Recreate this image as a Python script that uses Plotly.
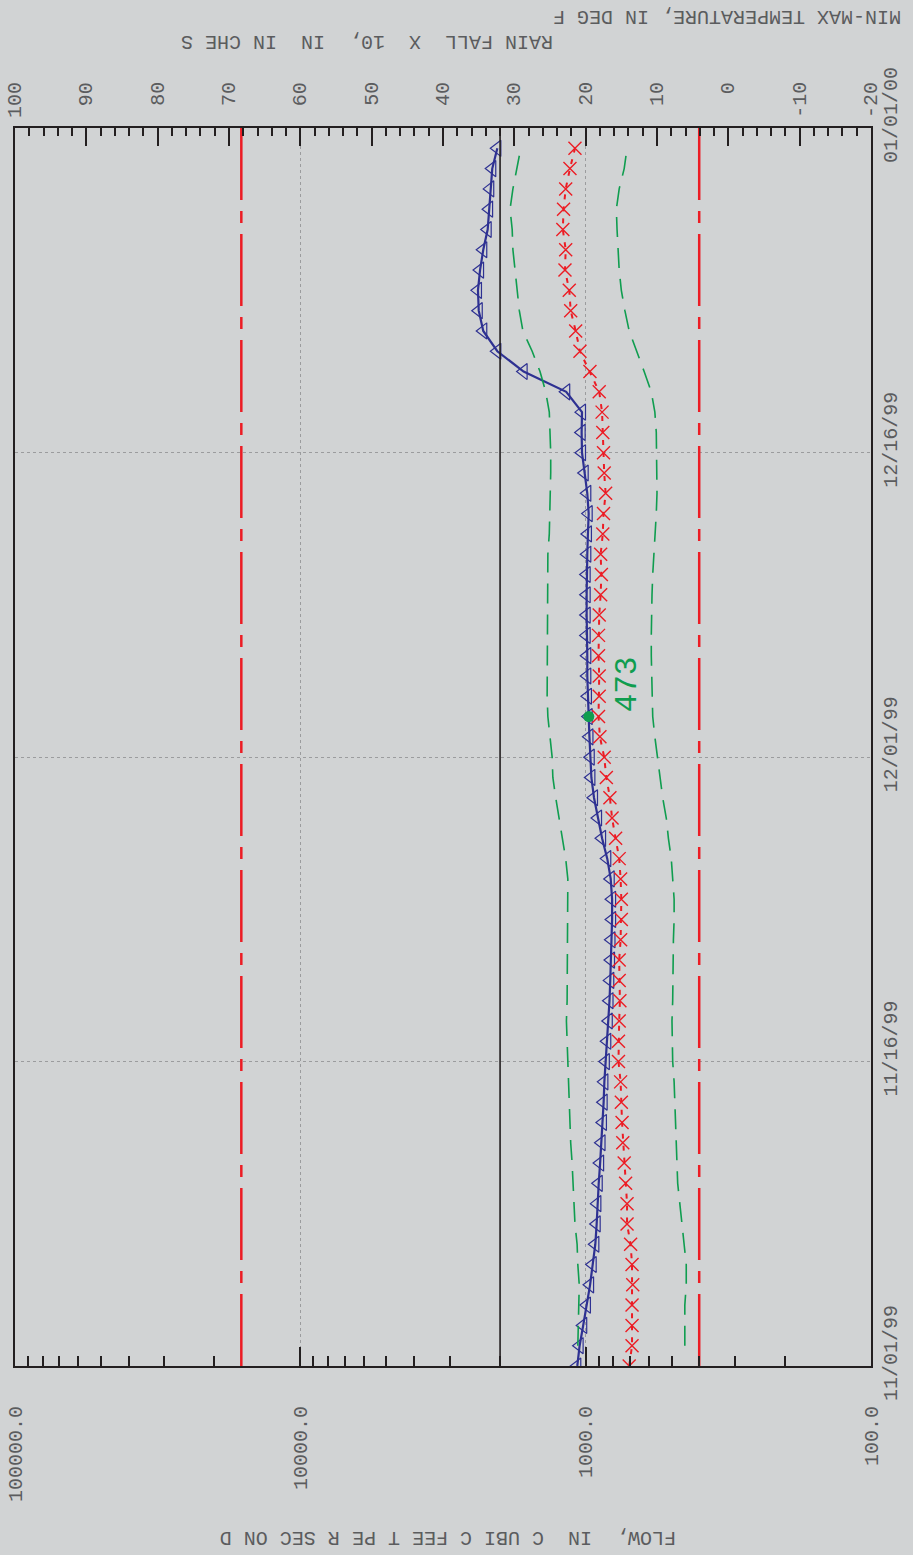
import math

import pandas as pd
import plotly.graph_objects as go

# Daily record, 11/01/99 - 12/31/99
START_DATE = "1999-11-01"
END_DATE = "2000-01-01"

# Mean daily flow, cubic feet per second (from 11/01/99)
flow_cfs = [
    1070, 1050, 1020, 990, 965, 945, 925, 915, 910, 900,
    890, 880, 870, 865, 860, 850, 840, 830, 825, 820,
    815, 812, 808, 808, 817, 840, 876, 905, 935, 955,
    960, 970, 976, 982, 987, 987, 992, 992, 992, 992,
    987, 982, 976, 987, 1008, 1030, 1033, 1030, 1170, 1650,
    2040, 2285, 2370, 2385, 2345, 2285, 2205, 2180, 2160, 2125,
    2040,
]

# Mean daily air temperature, deg F (from 11/01/99)
mean_temp_f = [
    13.9, 13.5, 13.5, 13.5, 13.4, 13.5, 13.7, 14.2, 14.2, 14.4,
    14.6, 14.8, 14.9, 15.0, 15.1, 15.4, 15.4, 15.3, 15.2, 15.3,
    15.3, 15.1, 15.0, 15.0, 15.1, 15.3, 15.8, 16.3, 16.6, 17.1,
    17.4, 18.0, 18.2, 18.1, 18.1, 18.2, 18.2, 18.1, 17.9, 17.8,
    17.9, 17.6, 17.5, 17.2, 17.4, 17.5, 17.6, 17.7, 18.1, 19.4,
    20.8, 21.4, 22.1, 22.3, 22.9, 22.8, 23.2, 23.1, 22.8, 22.2,
    21.5,
]

# Daily maximum / minimum air temperature, deg F (from 11/02/99)
max_temp_f = [
    21.1, 21.0, 20.9, 20.9, 21.1, 21.2, 21.5, 21.6, 21.8, 21.9,
    22.1, 22.2, 22.3, 22.5, 22.6, 22.7, 22.7, 22.6, 22.6, 22.6,
    22.5, 22.5, 22.5, 22.5, 22.8, 23.3, 23.7, 24.2, 24.6, 24.7,
    25.0, 25.3, 25.4, 25.4, 25.4, 25.4, 25.4, 25.4, 25.3, 25.3,
    25.1, 25.0, 24.9, 24.9, 24.9, 25.0, 25.1, 25.6, 26.4, 27.5,
    28.8, 29.3, 29.6, 30.0, 30.2, 30.3, 30.6, 30.2, 29.6, 29.1,
]
min_temp_f = [
    6.1, 6.1, 6.1, 5.9, 5.9, 6.2, 6.5, 6.8, 7.1, 7.2,
    7.3, 7.3, 7.5, 7.6, 7.8, 7.9, 7.9, 7.8, 7.8, 7.8,
    7.7, 7.6, 7.6, 7.8, 8.0, 8.4, 8.7, 9.2, 9.6, 9.9,
    10.3, 10.6, 10.7, 10.8, 10.8, 10.8, 10.8, 10.7, 10.6, 10.4,
    10.3, 10.1, 10.0, 10.0, 10.0, 10.1, 10.3, 10.8, 11.8, 12.8,
    13.9, 14.5, 15.0, 15.3, 15.5, 15.6, 15.7, 15.3, 14.6, 14.2,
]

# Discharge measurement
measurement_date = "1999-12-03"
measurement_cfs = 975
measurement_no = "473"

# Reference flow levels (cfs) and freezing temperature
flow_reference_cfs = [16100, 400]
freezing_f = 32

# Axis ticks and labels
flow_tick_vals = [100, 1000, 10000, 100000]
flow_tick_text = ["100.0", "1000.0", "10000.0", "100000.0"]
temp_tick_vals = [100, 90, 80, 70, 60, 50, 40, 30, 20, 10, 0, -10, -20]
date_tick_vals = ["1999-11-01", "1999-11-16", "1999-12-01", "1999-12-16", "2000-01-01"]

temp_title = "MIN-MAX TEMPERATURE, IN DEG F"
rain_title = "RAIN FALL  X  10,  IN  IN CHE S"
flow_title = "FLOW,  IN  C UBI C FEE T PE R SEC ON D"

BG = "#d1d3d4"
INK = "#231f20"
TEXT = "#5b5c5e"
GRID = "#9b9c9e"
BLUE = "#2e3192"
RED = "#ec1c24"
GREEN = "#0f9d4f"
FONT = "Liberation Mono"

flow_dates = pd.date_range(START_DATE, periods=len(flow_cfs), freq="D")
temp_dates = pd.date_range(pd.Timestamp(START_DATE) + pd.Timedelta(days=1),
                           periods=len(max_temp_f), freq="D")

fig = go.Figure()

# Reference flow levels
for level in flow_reference_cfs:
    fig.add_trace(go.Scatter(
        x=[level, level], y=[END_DATE, START_DATE], xaxis="x", yaxis="y",
        mode="lines", line=dict(color=RED, width=2.5, dash="72px,11px,12px,11px"),
        hoverinfo="skip"))

# Freezing line
fig.add_trace(go.Scatter(
    x=[freezing_f, freezing_f], y=[START_DATE, END_DATE], xaxis="x2", yaxis="y",
    mode="lines", line=dict(color=INK, width=1.6), hoverinfo="skip"))

# Max / min air temperature
for series in (max_temp_f, min_temp_f):
    fig.add_trace(go.Scatter(
        x=series, y=temp_dates, xaxis="x2", yaxis="y", mode="lines",
        line=dict(color=GREEN, width=1.6, dash="20px,11px")))

# Mean air temperature
fig.add_trace(go.Scatter(
    x=mean_temp_f, y=flow_dates, xaxis="x2", yaxis="y", mode="lines+markers",
    line=dict(color=RED, width=2, dash="5px,7px"),
    marker=dict(symbol="x-thin-open", size=13, line=dict(color=RED, width=1.4))))

# Daily flow
fig.add_trace(go.Scatter(
    x=flow_cfs, y=flow_dates, xaxis="x", yaxis="y", mode="lines+markers",
    line=dict(color=BLUE, width=2.2),
    marker=dict(symbol="triangle-left-open", size=14, color=BLUE,
                line=dict(color=BLUE, width=1.2))))

# Discharge measurement point
fig.add_trace(go.Scatter(
    x=[measurement_cfs], y=[measurement_date], xaxis="x", yaxis="y", mode="markers",
    marker=dict(symbol="circle", size=11, color=GREEN)))

annotations = []
# Measurement number (annotations on a log axis take log10 positions)
annotations.append(dict(
    x=math.log10(measurement_cfs), y=measurement_date, xref="x", yref="y",
    text=measurement_no, textangle=-90, showarrow=False,
    xshift=39, yshift=32, xanchor="center", yanchor="middle",
    font=dict(family=FONT, size=31, color=GREEN)))

# Temperature tick labels along the top
for t in temp_tick_vals:
    annotations.append(dict(
        x=t, y=1, xref="x2", yref="paper", text=str(t), textangle=-90,
        showarrow=False, xanchor="center", yanchor="top", yshift=48,
        font=dict(family=FONT, size=20, color=TEXT)))

# Axis titles
for text, xp, yp in ((temp_title, 0.8318, 1.0905),
                     (rain_title, 0.4112, 1.0703),
                     (flow_title, 0.5058, -0.1381)):
    annotations.append(dict(
        x=xp, y=yp, xref="paper", yref="paper", text=text, textangle=180,
        xanchor="center", yanchor="middle", showarrow=False,
        font=dict(family=FONT, size=20, color=TEXT)))

minor_flow = [k * 10 ** e for e in (2, 3, 4) for k in range(2, 10)]

fig.update_layout(
    width=913, height=1555,
    margin=dict(l=15, r=42, t=128, b=189),
    paper_bgcolor=BG, plot_bgcolor=BG,
    showlegend=False,
    annotations=annotations,
    xaxis=dict(
        type="log", range=[5, 2], anchor="y", automargin=False,
        showline=True, linecolor=INK, linewidth=2, mirror=True,
        tickmode="array", tickvals=flow_tick_vals, ticktext=flow_tick_text,
        ticks="inside", ticklen=19, tickwidth=1.5, tickcolor=INK,
        tickangle=-90, ticklabelstandoff=30,
        tickfont=dict(family=FONT, size=20, color=TEXT),
        showgrid=True, gridcolor=GRID, gridwidth=1, griddash="dot",
        minor=dict(tickmode="array", tickvals=minor_flow, ticks="inside",
                   ticklen=10, tickwidth=1.5, tickcolor=INK, showgrid=False),
        zeroline=False,
    ),
    xaxis2=dict(
        overlaying="x", side="top", anchor="y", range=[100, -20], automargin=False,
        showline=False, showticklabels=False,
        tickmode="linear", tick0=0, dtick=10,
        ticks="inside", ticklen=18, tickwidth=1.5, tickcolor=INK,
        minor=dict(ticks="inside", dtick=2, ticklen=8, tickwidth=1.5,
                   tickcolor=INK, showgrid=False),
        showgrid=False, zeroline=False,
    ),
    yaxis=dict(
        type="date", range=[START_DATE, END_DATE], side="right", automargin=False,
        showline=True, linecolor=INK, linewidth=2, mirror=True,
        tickmode="array", tickvals=date_tick_vals, tickformat="%m/%d/%y",
        ticks="", tickangle=-90, ticklabelstandoff=0, ticklabelshift=-10,
        tickfont=dict(family=FONT, size=20, color=TEXT),
        showgrid=True, gridcolor=GRID, gridwidth=1, griddash="dot",
        zeroline=False,
    ),
)

fig.write_html("out.html", config={"displayModeBar": False})
